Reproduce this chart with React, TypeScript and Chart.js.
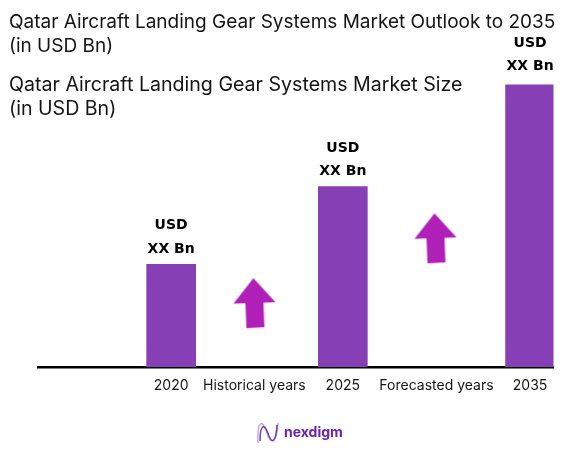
import { useEffect, useRef } from 'react'
import Chart from 'chart.js/auto'

const years = ['2020', '2025', '2035']
const marketSize = [10.3, 18.1, 28.3]
const periods = ['Historical years', 'Forecasted years']
const arrowLevels = [6.4, 12.9]
const valueLines = ['USD', 'XX Bn']
const titleLines = [
  'Qatar Aircraft Landing Gear Systems Market Outlook to 2035',
  '(in USD Bn)',
  'Qatar Aircraft Landing Gear Systems Market Size',
  '(in USD Bn)',
]

// the original axis is unevenly spaced, so labels sit on a row of mostly blank categories
const slotLabels: string[] = Array(99).fill('')
slotLabels[25] = years[0]
slotLabels[41] = periods[0]
slotLabels[58] = years[1]
slotLabels[76] = periods[1]
slotLabels[94] = years[2]

const FONT = 'Inter, "Liberation Sans", sans-serif'

function makeArrow(shift: number) {
  const c = document.createElement('canvas')
  c.width = 60
  c.height = 60
  const ctx = c.getContext('2d')!
  const cx = 30 + shift
  ctx.fillStyle = '#b01fb8'
  ctx.beginPath()
  ctx.moveTo(cx, 5)
  ctx.lineTo(cx + 22, 29)
  ctx.lineTo(cx + 10, 29.5)
  ctx.lineTo(cx + 11, 54)
  ctx.lineTo(cx - 7, 55)
  ctx.lineTo(cx - 8, 30)
  ctx.lineTo(cx - 20, 30.5)
  ctx.closePath()
  ctx.fill()
  return c
}

const textPlugin = {
  id: 'textPlugin',
  afterDatasetsDraw(chart: any) {
    const { ctx } = chart
    ctx.save()
    ctx.textBaseline = 'middle'

    // headings
    ctx.textAlign = 'left'
    ctx.fillStyle = '#141414'
    ctx.font = `19px ${FONT}`
    ctx.fillText(titleLines[0], 9, 22)
    ctx.fillText(titleLines[1], 9, 46)
    ctx.font = `19.6px ${FONT}`
    ctx.fillText(titleLines[2], 9, 85)
    ctx.fillText(titleLines[3], 9, 109)

    // value labels above bars
    ctx.textAlign = 'center'
    ctx.fillStyle = '#000'
    ctx.font = 'bold 14px "DejaVu Sans", sans-serif'
    chart.getDatasetMeta(0).data.forEach((bar: any, i: number) => {
      const lift = i === 2 ? 3 : 0
      ctx.fillText(valueLines[0], bar.x, bar.y - 38.5 - lift)
      ctx.fillText(valueLines[1], bar.x, bar.y - 15 - lift)
    })

    // logo
    ctx.lineWidth = 1.4
    ctx.strokeStyle = '#b9a2e8'
    ctx.beginPath()
    ctx.moveTo(258, 443)
    ctx.bezierCurveTo(257, 418, 263, 420, 267, 433)
    ctx.bezierCurveTo(271, 446, 277, 443, 278, 423)
    ctx.stroke()
    ctx.strokeStyle = '#6d35bd'
    ctx.beginPath()
    ctx.moveTo(260, 441)
    ctx.bezierCurveTo(260, 423, 265, 423, 269, 436)
    ctx.bezierCurveTo(272, 444, 276, 442, 277, 425)
    ctx.stroke()
    ctx.textAlign = 'left'
    ctx.fillStyle = '#6a22b4'
    ctx.font = `bold 14px ${FONT}`
    ctx.fillText('nexdigm', 284, 433)
    ctx.restore()
  },
}

export default function App() {
  const chartRef = useRef<HTMLCanvasElement>(null)

  useEffect(() => {
    if (!chartRef.current) return

    const chart = new Chart(chartRef.current, {
      type: 'bar',
      data: {
        labels: slotLabels,
        datasets: [
          {
            data: years.map((y, i) => ({ x: y, y: marketSize[i] })),
            backgroundColor: '#873fb5',
            barThickness: 49,
          },
          {
            type: 'line',
            data: periods.map((p, i) => ({ x: p, y: arrowLevels[i] })),
            showLine: false,
            pointStyle: [makeArrow(-1), makeArrow(-2)],
          },
        ] as any,
      },
      options: {
        responsive: false,
        animation: false,
        layout: { padding: { left: 38.5, right: 32.5, top: 0, bottom: 0 } },
        plugins: { legend: { display: false }, tooltip: { enabled: false } },
        scales: {
          x: {
            grid: { display: false },
            border: { color: '#000', width: 2.5 },
            afterFit: (scale: any) => {
              scale.height = 82
            },
            ticks: {
              autoSkip: false,
              maxRotation: 0,
              padding: 2,
              color: '#141414',
              font: { family: FONT, size: 14 },
            },
          },
          y: { display: false, min: 0, max: 36.3 },
        },
      },
      plugins: [textPlugin],
    })

    return () => chart.destroy()
  }, [])

  return (
    <div style={{ position: 'absolute', left: 0, top: 0, width: 586, height: 449, background: '#fff' }}>
      <canvas ref={chartRef} width={586} height={449} />
    </div>
  )
}
